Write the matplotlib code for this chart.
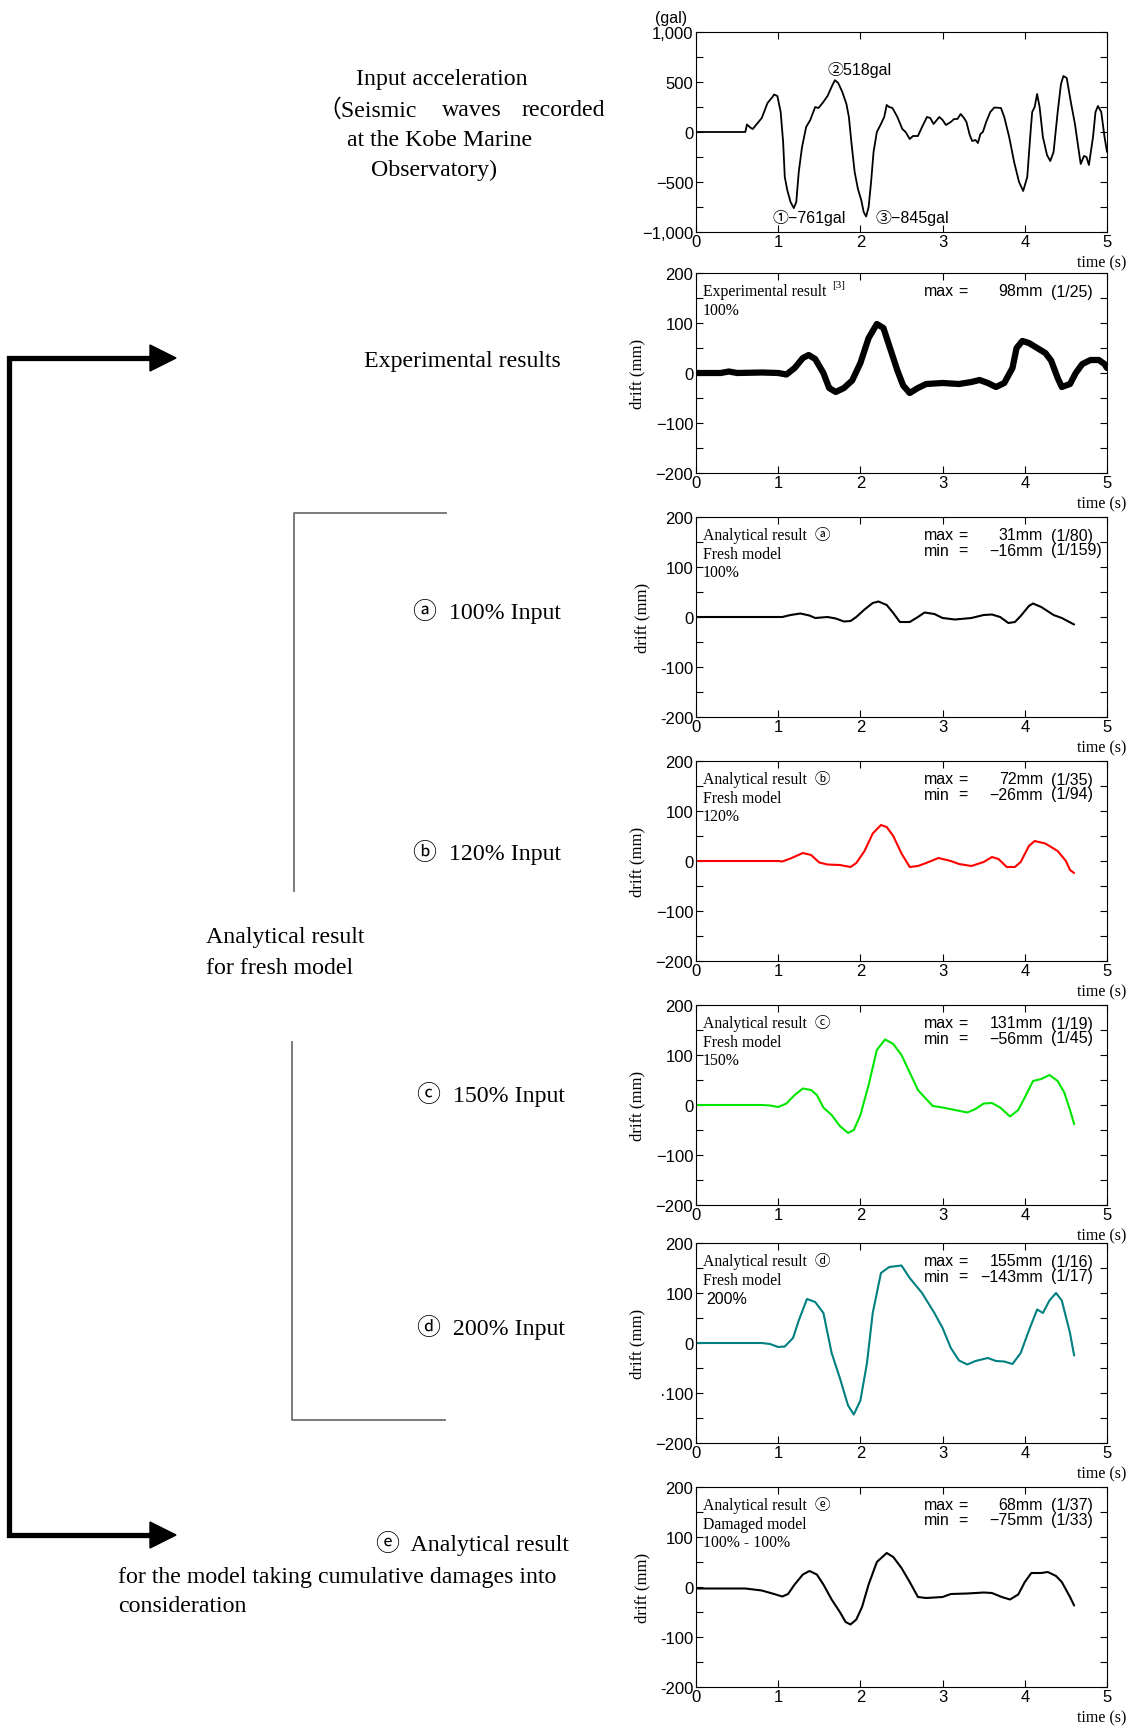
import numpy as np
import matplotlib
matplotlib.use("Agg")
import matplotlib.pyplot as plt
from matplotlib.ticker import MultipleLocator
from matplotlib.patches import Polygon

SERIF = ['Liberation Serif', 'Noto Sans CJK JP', 'DejaVu Serif']
SANS = ['Liberation Sans', 'Noto Sans CJK JP', 'DejaVu Sans']

# ---- input acceleration (gal) ----
acc_t = [0, 0.60, 0.62, 0.66, 0.69, 0.74, 0.80, 0.87, 0.93, 0.95, 0.99, 1.03, 1.06, 1.08,
         1.11, 1.15, 1.19, 1.22, 1.25, 1.29, 1.34, 1.39, 1.45, 1.49, 1.54, 1.60, 1.66, 1.69,
         1.73, 1.78, 1.83, 1.86, 1.89, 1.93, 1.97, 2.01, 2.04, 2.07, 2.10, 2.13, 2.16, 2.20,
         2.25, 2.29, 2.32, 2.35, 2.39, 2.45, 2.51, 2.55, 2.60, 2.64, 2.70, 2.75, 2.81, 2.85,
         2.89, 2.96, 3.00, 3.04, 3.10, 3.14, 3.18, 3.22, 3.26, 3.29, 3.33, 3.36, 3.40, 3.43,
         3.46, 3.49, 3.53, 3.58, 3.63, 3.71, 3.75, 3.81, 3.87, 3.93, 3.98, 4.03, 4.07, 4.09,
         4.12, 4.15, 4.18, 4.22, 4.27, 4.31, 4.35, 4.40, 4.44, 4.47, 4.51, 4.56, 4.61, 4.65,
         4.68, 4.72, 4.75, 4.78, 4.83, 4.86, 4.89, 4.93, 4.97, 5.00]
acc_v = [0, 0, 75, 45, 30, 80, 140, 290, 350, 375, 360, 200, -100, -450,
         -580, -700, -761, -700, -400, -150, 50, 120, 250, 240, 290, 360, 470, 518,
         490, 400, 280, 150, -100, -400, -570, -680, -800, -845, -750, -500, -200, 0,
         80, 150, 270, 250, 240, 150, 30, 0, -70, -40, -40, 50, 150, 140,
         80, 150, 120, 70, 100, 130, 130, 180, 140, 100, -30, -90, -80, -110,
         -20, 0, 100, 200, 245, 240, 150, -50, -300, -500, -590, -450, 0, 200,
         250, 380, 250, -50, -230, -290, -200, 200, 480, 560, 540, 300, 80, -150,
         -320, -240, -250, -330, -50, 200, 260, 200, -50, -200]

# ---- experimental result (mm) ----
exp_t = [0, 0.3, 0.4, 0.5, 0.8, 1.0, 1.1, 1.2, 1.3, 1.37, 1.45, 1.55, 1.62, 1.7, 1.8, 1.9,
         2.0, 2.1, 2.2, 2.28, 2.35, 2.45, 2.52, 2.6, 2.7, 2.8, 3.0, 3.2, 3.35, 3.45, 3.55,
         3.65, 3.75, 3.85, 3.9, 3.97, 4.05, 4.15, 4.25, 4.32, 4.4, 4.45, 4.55, 4.62, 4.7,
         4.8, 4.9, 4.97, 5.0]
exp_v = [0, 0, 3, 0, 1, 0, -3, 10, 30, 36, 28, 0, -30, -38, -30, -15,
         20, 70, 98, 90, 55, 5, -25, -40, -30, -22, -20, -22, -18, -14, -20,
         -28, -20, 10, 50, 64, 60, 50, 40, 25, -10, -28, -22, 0, 18,
         26, 26, 18, 10]

# ---- analytical results (mm) ----
a_t = [0, 1.0, 1.05, 1.15, 1.27, 1.38, 1.45, 1.6, 1.7, 1.8, 1.88, 1.95, 2.05, 2.15, 2.22,
       2.32, 2.4, 2.48, 2.6, 2.7, 2.78, 2.9, 3.0, 3.15, 3.35, 3.5, 3.6, 3.7, 3.8, 3.88,
       3.95, 4.05, 4.1, 4.2, 4.35, 4.45, 4.6]
a_v = [0, 0, 0, 4, 7, 3, -2, 0, -3, -9, -8, 0, 15, 28, 31,
       24, 8, -10, -10, 0, 9, 6, -2, -5, -2, 4, 5, 0, -12, -10,
       2, 22, 27, 20, 4, -2, -15]

b_t = [0, 1.0, 1.05, 1.15, 1.3, 1.4, 1.5, 1.6, 1.75, 1.88, 1.95, 2.05, 2.15, 2.25, 2.32,
       2.4, 2.5, 2.6, 2.7, 2.8, 2.95, 3.1, 3.2, 3.35, 3.5, 3.6, 3.68, 3.78, 3.88, 3.95,
       4.05, 4.12, 4.25, 4.4, 4.5, 4.55, 4.6]
b_v = [0, 0, -1, 5, 16, 12, -3, -7, -8, -12, -4, 20, 55, 72, 68,
       50, 15, -12, -10, -4, 6, 0, -6, -10, -2, 8, 4, -12, -12, -2,
       30, 40, 35, 20, 0, -18, -24]

c_t = [0, 0.8, 0.9, 1.0, 1.1, 1.2, 1.3, 1.4, 1.47, 1.55, 1.65, 1.75, 1.85, 1.92, 2.0,
       2.1, 2.2, 2.3, 2.4, 2.5, 2.6, 2.7, 2.8, 2.88, 3.0, 3.15, 3.3, 3.4, 3.5, 3.6,
       3.7, 3.82, 3.92, 4.0, 4.1, 4.2, 4.3, 4.4, 4.48, 4.55, 4.6]
c_v = [0, 0, -1, -4, 3, 20, 33, 30, 20, -5, -20, -42, -56, -50, -20,
       40, 110, 131, 122, 100, 65, 30, 12, -2, -5, -10, -15, -8, 3, 4,
       -5, -23, -10, 15, 48, 52, 60, 48, 25, -10, -38]

d_t = [0, 0.8, 0.9, 1.0, 1.08, 1.18, 1.25, 1.35, 1.45, 1.55, 1.65, 1.75, 1.85, 1.92, 2.0,
       2.08, 2.15, 2.25, 2.35, 2.5, 2.6, 2.75, 2.9, 3.0, 3.1, 3.2, 3.3, 3.4, 3.55, 3.65,
       3.75, 3.85, 3.95, 4.05, 4.15, 4.22, 4.3, 4.38, 4.45, 4.55, 4.6]
d_v = [0, 0, -2, -8, -7, 10, 45, 88, 82, 60, -20, -70, -125, -143, -115,
       -40, 60, 140, 152, 155, 130, 100, 60, 30, -10, -35, -43, -36, -30, -36,
       -37, -42, -20, 25, 67, 60, 85, 100, 85, 20, -25]

e_t = [0, 0.6, 0.8, 0.95, 1.05, 1.12, 1.2, 1.3, 1.38, 1.47, 1.55, 1.65, 1.75, 1.82, 1.88,
       1.95, 2.02, 2.1, 2.2, 2.32, 2.4, 2.5, 2.6, 2.7, 2.8, 3.0, 3.1, 3.3, 3.5, 3.6,
       3.72, 3.82, 3.92, 4.0, 4.08, 4.2, 4.28, 4.38, 4.45, 4.55, 4.6]
e_v = [-3, -3, -7, -14, -19, -14, 5, 25, 32, 25, 5, -25, -50, -70, -75,
       -65, -40, 5, 50, 68, 60, 38, 10, -20, -22, -20, -14, -13, -11, -12,
       -20, -25, -15, 10, 28, 28, 30, 22, 10, -20, -37]

acc_ticks = [1000, 500, 0, -500, -1000]
acc_labels = ['1,000', '500', '0', '\u2212500', '\u22121,000']
drift_ticks = [200, 100, 0, -100, -200]
drift_labels = {
    'exp': ['200', '100', '0', '\u2212100', '\u2212200'],
    'a': ['200', '100', '0', '-100', '-200'],
    'b': ['200', '100', '0', '\u2212100', '\u2212200'],
    'c': ['200', '100', '0', '\u2212100', '\u2212200'],
    'd': ['200', '100', '0', '\u00b7100', '\u2212200'],
    'e': ['200', '100', '0', '-100', '-200'],
}
x_ticks = [0, 1, 2, 3, 4, 5]

W, H = 1136, 1731
fig = plt.figure(figsize=(W / 100, H / 100), dpi=100)
TICK_FS = 12


def make_axes(top):
    ax = fig.add_axes([696 / W, 1 - (top + 200) / H, 411 / W, 200 / H])
    ax.set_xlim(0, 5)
    ax.set_xticks(x_ticks)
    ax.set_xticklabels([str(v) for v in x_ticks], family=SANS, fontsize=TICK_FS)
    ax.tick_params(direction='in', top=True, right=True, length=5, width=0.8,
                   pad=2, which='both')
    ax.tick_params(axis='x', pad=1.5)
    for s in ax.spines.values():
        s.set_linewidth(0.8)
    ax.text(1.046, -0.15, 'time (s)', transform=ax.transAxes, ha='right', va='center',
            family=SERIF, fontsize=11.5)
    return ax


def drift_axes(top, key):
    ax = make_axes(top)
    ax.set_ylim(-200, 200)
    ax.set_yticks(drift_ticks)
    ax.set_yticklabels(drift_labels[key], family=SANS, fontsize=TICK_FS)
    ax.yaxis.set_minor_locator(MultipleLocator(50))
    ax.set_ylabel('drift (mm)', family=SERIF, fontsize=12, labelpad=7)
    return ax


def side_text(ax, lines, maxmin, third_sans=False):
    ys = [0.91, 0.815, 0.725]
    for i, s in enumerate(lines):
        sans = third_sans and i == 2
        ax.text(0.024 if sans else 0.016, ys[i], s, transform=ax.transAxes, ha='left',
                va='center', family=SANS if sans else SERIF,
                fontsize=11.5 if sans else 11.3)
    for i, (lab, num, par) in enumerate(maxmin):
        y = 0.91 - i * 0.075
        ax.text(0.555, y, lab, transform=ax.transAxes, ha='left', va='center',
                family=SANS, fontsize=11.5)
        ax.text(0.638, y, '=', transform=ax.transAxes, ha='left', va='center',
                family=SANS, fontsize=11.5)
        ax.text(0.844, y, num, transform=ax.transAxes, ha='right', va='center',
                family=SANS, fontsize=11.5)
        ax.text(0.864, y, par, transform=ax.transAxes, ha='left', va='center',
                family=SANS, fontsize=11.5)


LINE_KW = dict(solid_joinstyle='round', solid_capstyle='round')

# input acceleration
ax0 = make_axes(33)
ax0.set_ylim(-1000, 1000)
ax0.set_yticks(acc_ticks)
ax0.set_yticklabels(acc_labels, family=SANS, fontsize=TICK_FS)
ax0.yaxis.set_minor_locator(MultipleLocator(250))
ax0.plot(acc_t, acc_v, color='black', lw=1.3, **LINE_KW)
ax0.text(-0.061, 1.075, '(gal)', transform=ax0.transAxes, ha='center', va='center',
         family=SANS, fontsize=11.5)
ax0.text(1.594, 630, '\u2461518gal', ha='left', va='center', family=SANS, fontsize=11.5)
ax0.text(0.925, -850, '\u2460\u2212761gal', ha='left', va='center', family=SANS, fontsize=11.5)
ax0.text(2.18, -850, '\u2462\u2212845gal', ha='left', va='center', family=SANS, fontsize=11.5)

# experimental
ax1 = drift_axes(274, 'exp')
ax1.plot(exp_t, exp_v, color='black', lw=4.5, **LINE_KW)
ax1.text(0.016, 0.91, 'Experimental result', transform=ax1.transAxes, ha='left',
         va='center', family=SERIF, fontsize=11.3)
ax1.text(0.33, 0.945, '[3]', transform=ax1.transAxes, ha='left', va='center',
         family=SERIF, fontsize=8)
ax1.text(0.016, 0.815, '100%', transform=ax1.transAxes, ha='left', va='center',
         family=SERIF, fontsize=11.3)
side_text(ax1, [], [('max', '98mm', '(1/25)')])

ax2 = drift_axes(518, 'a')
ax2.plot(a_t, a_v, color='black', lw=1.5, **LINE_KW)
side_text(ax2, ['Analytical result  \u24d0', 'Fresh model', '100%'],
          [('max', '31mm', '(1/80)'), ('min', '\u221216mm', '(1/159)')])

ax3 = drift_axes(762, 'b')
ax3.plot(b_t, b_v, color='#ff0000', lw=1.5, **LINE_KW)
side_text(ax3, ['Analytical result  \u24d1', 'Fresh model', '120%'],
          [('max', '72mm', '(1/35)'), ('min', '\u221226mm', '(1/94)')])

ax4 = drift_axes(1006, 'c')
ax4.plot(c_t, c_v, color='#00e600', lw=1.5, **LINE_KW)
side_text(ax4, ['Analytical result  \u24d2', 'Fresh model', '150%'],
          [('max', '131mm', '(1/19)'), ('min', '\u221256mm', '(1/45)')])

ax5 = drift_axes(1244, 'd')
ax5.plot(d_t, d_v, color='#008080', lw=1.5, **LINE_KW)
side_text(ax5, ['Analytical result  \u24d3', 'Fresh model', '200%'],
          [('max', '155mm', '(1/16)'), ('min', '\u2212143mm', '(1/17)')], third_sans=True)

ax6 = drift_axes(1488, 'e')
ax6.plot(e_t, e_v, color='black', lw=1.5, **LINE_KW)
side_text(ax6, ['Analytical result  \u24d4', 'Damaged model', '100% - 100%'],
          [('max', '68mm', '(1/37)'), ('min', '\u221275mm', '(1/33)')])

# ---- left side diagram (pixel coordinates) ----
ov = fig.add_axes([0, 0, 1, 1], zorder=-1)
ov.set_xlim(0, W)
ov.set_ylim(H, 0)
ov.axis('off')

ov.plot([152, 9, 9, 152], [359, 359, 1536, 1536], color='black', lw=3.8,
        solid_joinstyle='miter')
for y in (359, 1536):
    ov.add_patch(Polygon([[150, y - 13], [176, y], [150, y + 13]], closed=True,
                         color='black'))

gray = '#707070'
ov.plot([446, 294, 294], [514, 514, 892], color=gray, lw=1.3)
ov.plot([292, 292, 445], [1043, 1421, 1421], color=gray, lw=1.3)

fs = 17.2
ov.text(442, 79, 'Input acceleration', ha='center', va='center', family=SERIF, fontsize=fs)
ov.text(317, 110, '\uff08Seismic', ha='left', va='center', family=SERIF, fontsize=fs)
ov.text(472, 110, 'waves', ha='center', va='center', family=SERIF, fontsize=fs)
ov.text(605, 110, 'recorded', ha='right', va='center', family=SERIF, fontsize=fs)
ov.text(440, 140, 'at the Kobe Marine', ha='center', va='center', family=SERIF, fontsize=fs)
ov.text(434, 170, 'Observatory)', ha='center', va='center', family=SERIF, fontsize=fs)
ov.text(561, 361, 'Experimental results', ha='right', va='center', family=SERIF, fontsize=fs)
ov.text(561, 612, '\u24d0  100% Input', ha='right', va='center', family=SERIF, fontsize=fs)
ov.text(561, 853, '\u24d1  120% Input', ha='right', va='center', family=SERIF, fontsize=fs)
ov.text(206, 938, 'Analytical result', ha='left', va='center', family=SERIF, fontsize=fs)
ov.text(206, 969, 'for fresh model', ha='left', va='center', family=SERIF, fontsize=fs)
ov.text(565, 1095, '\u24d2  150% Input', ha='right', va='center', family=SERIF, fontsize=fs)
ov.text(565, 1328, '\u24d3  200% Input', ha='right', va='center', family=SERIF, fontsize=fs)
ov.text(569, 1544, '\u24d4  Analytical result', ha='right', va='center', family=SERIF,
        fontsize=fs)
ov.text(118, 1578, 'for the model taking cumulative damages into', ha='left', va='center',
        family=SERIF, fontsize=fs)
ov.text(118, 1607, 'consideration', ha='left', va='center', family=SERIF, fontsize=fs)

fig.savefig('out.png', dpi=100)
